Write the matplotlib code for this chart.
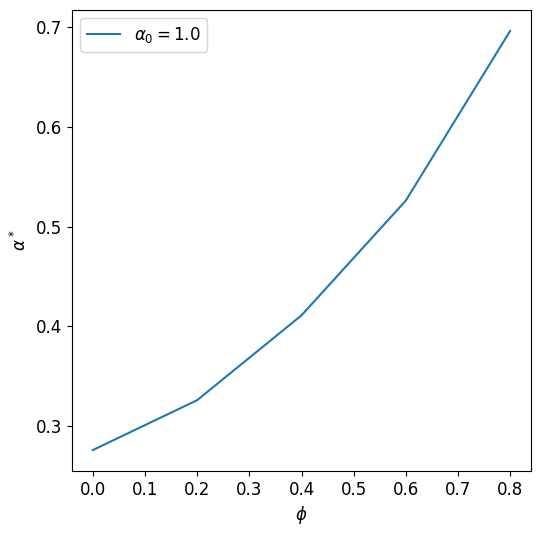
import numpy as np
import matplotlib.pyplot as plt

# data
phi = [0.0, 0.2, 0.4, 0.6, 0.8]
alpha_star = [0.276, 0.326, 0.411, 0.526, 0.696]
alpha0 = 1.0

plt.rcParams['font.size'] = 12

fig = plt.figure(figsize=(5.46, 5.37), dpi=100)
ax = fig.add_axes([72 / 546, 1 - 471 / 537, (531 - 72) / 546, (471 - 10) / 537])
ax.plot(phi, alpha_star, label=r'$\alpha_0 = %.1f$' % alpha0)
ax.set_xlabel(r'$\phi$')
ax.set_ylabel(r'$\alpha^*$')
ax.legend(loc='upper left')

fig.savefig('out.png')
